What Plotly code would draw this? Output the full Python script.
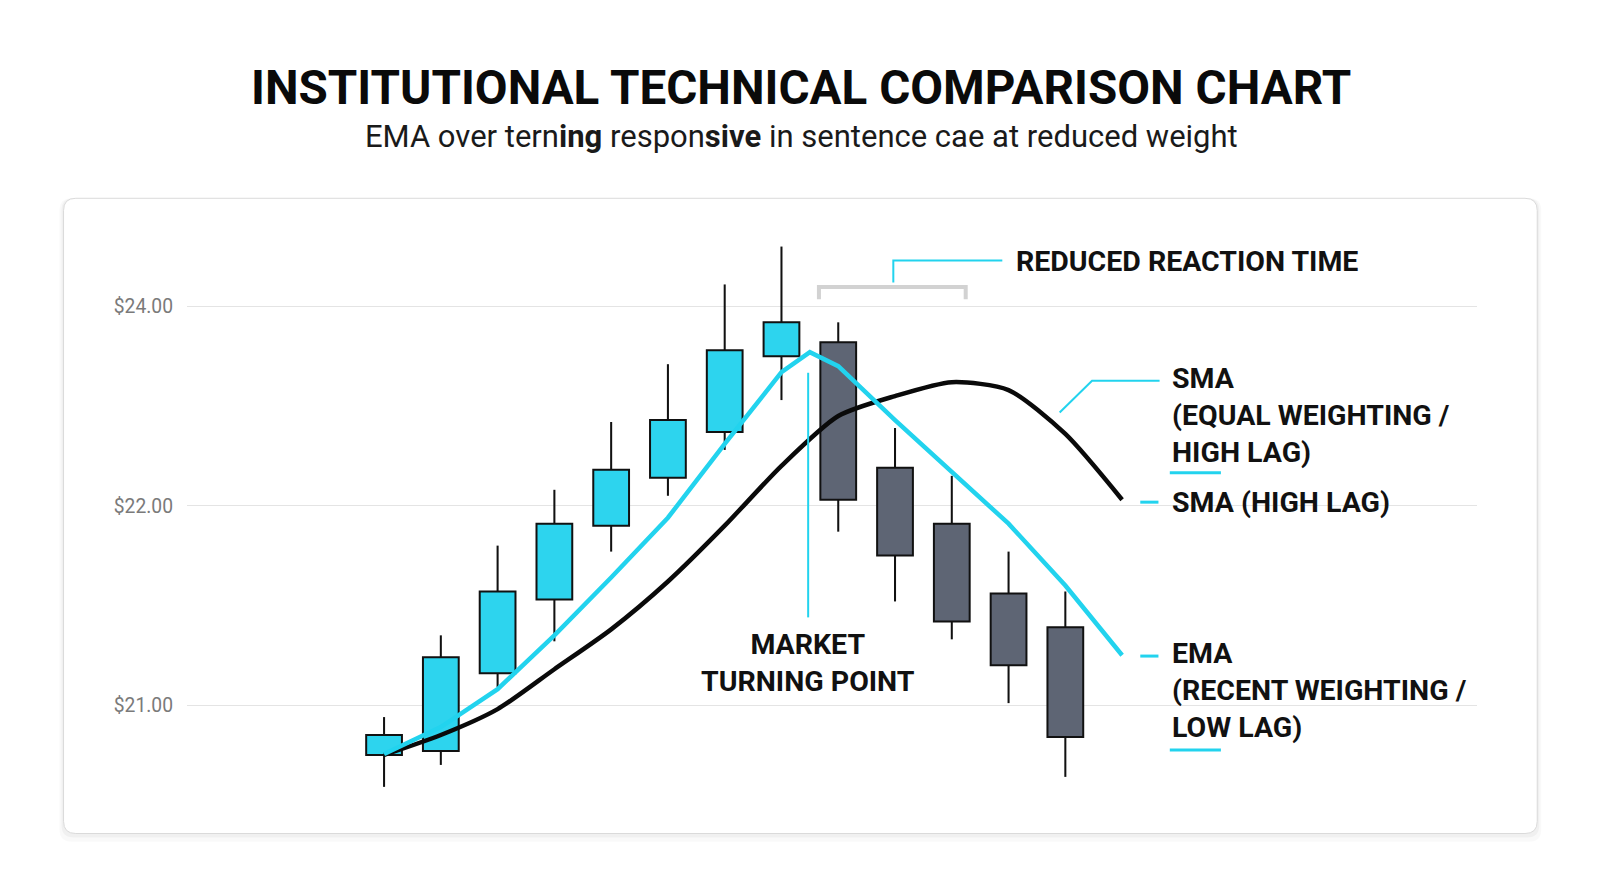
import plotly.graph_objects as go

# candle data (index along the x axis)
candle_idx = list(range(13))
open_px = [20.75, 20.77, 21.16, 21.53, 21.90, 22.14, 22.37, 22.75, 22.82, 22.19, 21.91, 21.56, 21.39]
close_px = [20.85, 21.24, 21.57, 21.91, 22.18, 22.43, 22.78, 22.92, 22.03, 21.75, 21.42, 21.20, 20.84]
high_px = [20.94, 21.35, 21.80, 22.08, 22.42, 22.71, 23.11, 23.30, 22.92, 22.39, 22.15, 21.77, 21.57]
low_px = [20.59, 20.70, 21.09, 21.32, 21.77, 22.05, 22.28, 22.53, 21.87, 21.52, 21.33, 21.01, 20.64]

# moving averages
ema_x = [0, 1, 2, 3, 4, 5, 6, 7, 7.5, 8, 9, 10, 11, 12, 13]
ema_y = [20.755, 20.89, 21.08, 21.35, 21.64, 21.94, 22.31, 22.67, 22.77, 22.70, 22.43, 22.17, 21.91, 21.60, 21.25]
sma_x = list(range(14))
sma_y = [20.75, 20.85, 20.98, 21.18, 21.38, 21.62, 21.90, 22.20, 22.45, 22.55, 22.62, 22.58, 22.36, 22.03]

# y axis ticks (labels as printed on the chart)
tick_vals = [21, 22, 23]
tick_text = ["$21.00", "$22.00", "$24.00"]

CYAN = "#22D3EE"
BULL = "#2DD4EE"
BEAR = "#5E6574"
FONT = "Roboto"

fig = go.Figure()

# wicks (thin bars, drawn first so bodies cover them)
fig.add_trace(go.Bar(
    x=candle_idx,
    base=low_px,
    y=[h - l for h, l in zip(high_px, low_px)],
    width=0.036,
    marker=dict(color="#111111", line=dict(width=0)),
    hoverinfo="skip",
))

# bodies
body_base = [min(o, c) for o, c in zip(open_px, close_px)]
body_h = [abs(c - o) for o, c in zip(open_px, close_px)]
body_col = [BULL if c >= o else BEAR for o, c in zip(open_px, close_px)]
fig.add_trace(go.Bar(
    x=candle_idx,
    base=body_base,
    y=body_h,
    width=0.63,
    marker=dict(color=body_col, line=dict(color="#111111", width=2)),
    hoverinfo="skip",
))

fig.add_trace(go.Scatter(
    x=sma_x, y=sma_y, mode="lines",
    line=dict(color="#0A0A0A", width=4.5, shape="spline", smoothing=0.7),
    hoverinfo="skip",
))
fig.add_trace(go.Scatter(
    x=ema_x, y=ema_y, mode="lines",
    line=dict(color=CYAN, width=4.5),
    hoverinfo="skip",
))

# card behind the plot (paper coords, rounded corners)
def rounded(x0, y0, x1, y1, rx, ry):
    return (f"M {x0+rx},{y0} L {x1-rx},{y0} Q {x1},{y0} {x1},{y0+ry} "
            f"L {x1},{y1-ry} Q {x1},{y1} {x1-rx},{y1} L {x0+rx},{y1} "
            f"Q {x0},{y1} {x0},{y1-ry} L {x0},{y0+ry} Q {x0},{y0} {x0+rx},{y0} Z")

cx0, cy0, cx1, cy1 = -0.0957, -0.0482, 1.0467, 1.0643
rx, ry = 12 / 1264, 12 / 560
shapes = []
for k, a in [(4, 0.025), (2, 0.035)]:
    dx, dy = k / 1264, k / 560
    shapes.append(dict(type="path", xref="paper", yref="paper", layer="below",
                       path=rounded(cx0 - dx, cy0 - 2 * dy, cx1 + dx, cy1, rx, ry),
                       fillcolor=f"rgba(0,0,0,{a})", line=dict(width=0)))
shapes.append(dict(type="path", xref="paper", yref="paper", layer="below",
                   path=rounded(cx0, cy0, cx1, cy1, rx, ry),
                   fillcolor="white", line=dict(color="#DADADA", width=1)))

# bracket for reaction time
shapes.append(dict(type="path", xref="x", yref="y",
                   path="M 7.66,23.036 L 7.66,23.097 L 10.245,23.097 L 10.245,23.036",
                   line=dict(color="#D2D2D2", width=4)))
# connector to reaction-time label
shapes.append(dict(type="path", xref="x", yref="y",
                   path="M 8.97,23.12 L 8.97,23.23 L 10.89,23.23",
                   line=dict(color=CYAN, width=2)))
# turning point marker
shapes.append(dict(type="line", xref="x", yref="y", x0=7.47, x1=7.47, y0=21.44, y1=22.667,
                   line=dict(color=CYAN, width=2)))
# SMA label connector
shapes.append(dict(type="path", xref="x", yref="y",
                   path="M 11.90,22.468 L 12.47,22.627 L 13.66,22.627",
                   line=dict(color=CYAN, width=2)))
# small dashes / underlines near right labels
for x0, x1, yv in [(13.84, 14.74, 22.166), (13.32, 13.64, 22.018),
                   (13.32, 13.64, 21.246), (13.84, 14.74, 20.775)]:
    shapes.append(dict(type="line", xref="x", yref="y", x0=x0, x1=x1, y0=yv, y1=yv,
                       line=dict(color=CYAN, width=3)))

lbl = dict(family=FONT, size=28.5, color="#111111")
annotations = [
    dict(text="<b>INSTITUTIONAL TECHNICAL COMPARISON CHART</b>", xref="paper", yref="paper",
         x=0.476, y=1.257, showarrow=False, xanchor="center", yanchor="middle",
         font=dict(family=FONT, size=47.6, color="#0A0A0A")),
    dict(text="EMA over tern<b>ing</b> respon<b>sive</b> in sentence cae at reduced weight",
         xref="paper", yref="paper", x=0.476, y=1.173, showarrow=False,
         xanchor="center", yanchor="middle",
         font=dict(family=FONT, size=31, color="#1A1A1A")),
    dict(text="<b>REDUCED REACTION TIME</b>", x=11.09, y=23.225, showarrow=False,
         xanchor="left", yanchor="middle", font=lbl),
    dict(text="<b>MARKET<br>TURNING POINT</b>", x=7.47, y=21.21, showarrow=False,
         xanchor="center", yanchor="middle", font=lbl),
    dict(text="<b>SMA<br>(EQUAL WEIGHTING /<br>HIGH LAG)</b>", x=13.84, y=22.455,
         showarrow=False, xanchor="left", yanchor="middle", align="left", font=lbl),
    dict(text="<b>SMA (HIGH LAG)</b>", x=13.84, y=22.018, showarrow=False,
         xanchor="left", yanchor="middle", font=lbl),
    dict(text="<b>EMA<br>(RECENT WEIGHTING /<br>LOW LAG)</b>", x=13.84, y=21.072,
         showarrow=False, xanchor="left", yanchor="middle", align="left", font=lbl),
]

fig.update_layout(
    width=1617, height=895,
    margin=dict(l=179, r=148, t=227, b=97),
    paper_bgcolor="white", plot_bgcolor="rgba(0,0,0,0)",
    barmode="overlay", showlegend=False, hovermode=False,
    shapes=shapes, annotations=annotations,
    font=dict(family=FONT),
    xaxis=dict(range=[-3.471, 19.251], showgrid=False, zeroline=False,
               showticklabels=False, fixedrange=True),
    yaxis=dict(range=[20.494, 23.358], tickvals=tick_vals, ticktext=tick_text,
               showgrid=True, gridcolor="#E4E4E4", gridwidth=1, zeroline=False,
               ticks="", ticklabelstandoff=13,
               tickfont=dict(family=FONT, size=19.3, color="#7A7A7A"), fixedrange=True),
)

fig.write_html("out.html")
